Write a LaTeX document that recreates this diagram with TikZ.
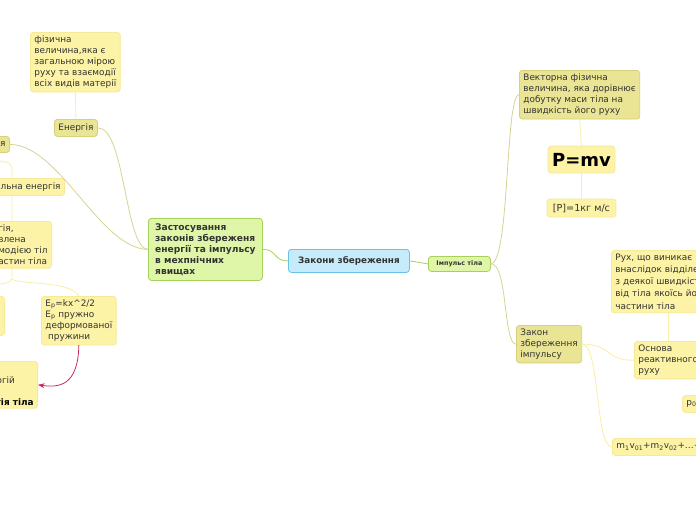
\documentclass[tikz,border=0pt]{standalone}
\usepackage{fontspec}
\setmainfont{DejaVu Sans}
\usetikzlibrary{arrows.meta}
\definecolor{paleF}{HTML}{FCF3A6}
\definecolor{paleD}{HTML}{F6EA9A}
\definecolor{khakiF}{HTML}{EAE594}
\definecolor{khakiD}{HTML}{D7D07C}
\definecolor{greenF}{HTML}{DFF6A8}
\definecolor{greenD}{HTML}{A6D25C}
\definecolor{blueF}{HTML}{C6EBFB}
\definecolor{blueD}{HTML}{68C2EA}
\definecolor{txt}{HTML}{333333}
\definecolor{lineK}{HTML}{D8D394}
\definecolor{lineP}{HTML}{FAEFA5}
\definecolor{lineG}{HTML}{A9D067}
\definecolor{arrR}{HTML}{CC2D57}
\begin{document}
\begin{tikzpicture}[x=1pt,y=-1pt,>=Stealth,line join=round,line cap=round,
	box/.style={rounded corners=3pt,line width=0.8pt,inner xsep=4pt,inner ysep=3.5pt,align=left,text=txt,font=\fontsize{8.9}{11}\selectfont},
	pbox/.style={box,fill=paleF,draw=paleD},
	kbox/.style={box,fill=khakiF,draw=khakiD},
	gbox/.style={box,fill=greenF,draw=greenD,font=\fontsize{9.1}{11}\selectfont\bfseries},
	bbox/.style={box,fill=blueF,draw=blueD,font=\fontsize{8.8}{11}\selectfont\bfseries},
	pline/.style={draw=lineP,line width=0.8pt},
	kline/.style={draw=lineK,line width=0.8pt},
	gline/.style={draw=lineG,line width=0.8pt},
	rline/.style={draw=arrR,line width=0.8pt}]
		\useasboundingbox[fill=white] (0,0) rectangle (696,520);
		% left branch
		\node[pbox,anchor=north west] (fiz) at (30,32) {фізична\\величина,яка є\\загальною мірою\\руху та взаємодії\\всіх видів матерії};
		\node[kbox,anchor=north west,minimum height=17pt] (energ) at (54,119) {Енергія};
		\node[kbox,anchor=north east,minimum height=16pt] (kin) at (10,136) {я};
		\node[pbox,anchor=north east,minimum height=17pt] (pot) at (65,178) {альна енергія};
		\node[pbox,anchor=north east] (potdef) at (52,221) {гія,\\влена\\модією тіл\\астин тіла};
		\node[pbox,anchor=north east,minimum width=15pt,minimum height=39pt] (stub) at (5,296) {};
		\node[pbox,anchor=north west] (ep) at (41,296) {E\textsubscript{р}=kx\textasciicircum 2/2\\E\textsubscript{р} пружно\\деформованої\\\hspace*{0.3em}пружини};
		\node[pbox,anchor=north east,inner ysep=3pt] (mech) at (38,361) {\strut\\ргій\\\strut\\\textbf{\color{black}гія тіла}};
		% centre
		\node[gbox,anchor=north west,minimum width=114pt,minimum height=62pt] (app) at (148,218) {Застосування\\законів збереженя\\енергії та імпульсу\\в мехпнічних\\явищах};
		\node[bbox,anchor=north west,minimum width=121pt,minimum height=23pt] (main) at (288,249) {Закони збереження};
		\node[gbox,anchor=north west,minimum width=62pt,minimum height=15pt,inner ysep=2pt,font=\fontsize{6.4}{8}\selectfont\bfseries] (imp) at (428,256) {Імпульс тіла};
		% right branch
		\node[kbox,anchor=north west] (vec) at (519,70) {Векторна фізична\\величина, яка дорівнює\\добутку маси тіла на\\швидкість його руху};
		\node[pbox,minimum width=67pt,minimum height=27pt,inner sep=1pt,font=\fontsize{18}{20}\selectfont\bfseries] (pmv) at (581.5,159.5) {\color{black}P=mv};
		\node[pbox,minimum width=69pt,minimum height=18pt,font=\fontsize{9.6}{11}\selectfont] (unit) at (581.5,208) {[P]=1кг м/с};
		\node[kbox,anchor=north west] (law) at (516,325) {Закон\\збереження\\імпульсу};
		\node[pbox,anchor=north west,text width=106pt,font=\fontsize{8.9}{12.2}\selectfont] (ruh) at (611,250) {Рух, що виникає\\внаслідок відділе\\з деякої швидкіст\\від тіла якоїсь йо\\частини тіла};
		\node[pbox,anchor=north west,text width=60pt] (osn) at (634,341) {Основа\\реактивного\\руху};
		\node[pbox,anchor=north west,minimum height=17pt] (p0) at (682,395) {p\textsubscript{0}};
		\node[pbox,anchor=north west,minimum height=17pt] (sum) at (612,438) {m\textsubscript{1}v\textsubscript{01}+m\textsubscript{2}v\textsubscript{02}+\ldots+};
		% links
		\coordinate (lt) at (0,161);
		\coordinate (fork) at (12,279);
		\coordinate (lf) at (0,284);
		\draw[pline] (fiz.south) -- (energ.north);
		\draw[kline] (energ.east) .. controls (125,127) and (125,249) .. (app.west);
		\draw[kline] (kin.east) .. controls (60,145) and (100,249) .. (app.west);
		\draw[gline] (app.east) .. controls (277,249) and (273,261) .. (main.west);
		\draw[gline] (main.east) -- (imp.west);
		\draw[kline] (imp.east) .. controls (510,263) and (505,95) .. (vec.west);
		\draw[kline] (imp.east) .. controls (508,263) and (503,344) .. (law.west);
		\draw[pline] (vec.south) -- (pmv.north) (pmv.south) -- (unit.north);
		\draw[pline] (ruh.south) -- (osn.north);
		\draw[pline] (law.east) .. controls (612,344) and (605,361) .. (osn.west);
		\draw[pline] (law.east) .. controls (600,344) and (595,447) .. (sum.west);
		\draw[pline] (lt) .. controls (12,163) .. (pot.north -| fork) (pot.south -| fork) -- (potdef.north -| fork) (potdef.south -| fork) -- (fork) .. controls (18,285) and (70,280) .. (ep.north) (fork) .. controls (8,283) .. (lf);
		\draw[rline,->] (ep.south) .. controls (78,385) and (60,388) .. (mech.east);
\end{tikzpicture}
\end{document}
